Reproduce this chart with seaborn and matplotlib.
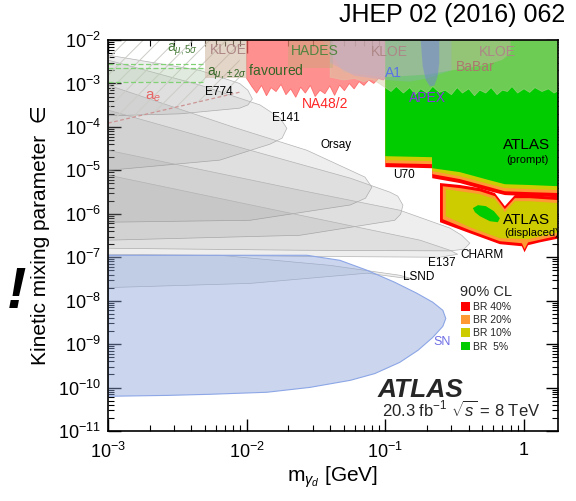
import numpy as np
import pandas as pd
import matplotlib
matplotlib.use("Agg")
import matplotlib.pyplot as plt
import seaborn as sns
from matplotlib.patches import Patch
from matplotlib.ticker import FixedLocator, FixedFormatter, LogLocator, NullFormatter

# ---------------- data (GeV, epsilon) ----------------
E774_x = [1e-3, 4.6e-3, 8.9e-3, 1.02e-2, 1.1e-2, 1.02e-2, 8.9e-3, 3.3e-3, 1e-3]
E774_y = [4.5e-3, 2.0e-3, 1.0e-3, 7.0e-4, 4.4e-4, 3.2e-4, 2.7e-4, 2.0e-4, 1.8e-4]
E141_x = [1e-3, 4.6e-3, 1.25e-2, 1.74e-2, 1.95e-2, 1.8e-2, 1.47e-2, 6.4e-3, 1e-3]
E141_y = [3.46e-3, 9.2e-4, 3.2e-4, 1.6e-4, 9.3e-5, 5.5e-5, 4.0e-5, 1.72e-5, 1e-5]
Orsay_x = [1e-3, 8e-3, 2.72e-2, 5.6e-2, 7.13e-2, 8.0e-2, 7.2e-2, 5.6e-2, 1.06e-2, 1e-3]
Orsay_y = [9.2e-4, 9.9e-5, 2.9e-5, 1.0e-5, 7.0e-6, 4.1e-6, 2.29e-6, 1.6e-6, 7.1e-7, 6.4e-7]
U70_x = [1e-3, 1.06e-2, 5.6e-2, 0.108, 0.123, 0.134, 0.129, 0.117, 2.42e-2, 1e-3]
U70_y = [2.44e-4, 2.9e-5, 6.6e-6, 3.15e-6, 2.55e-6, 1.58e-6, 9.8e-7, 7.1e-7, 3.2e-7, 2.47e-7]
CHARM_x = [1e-3, 2.42e-2, 0.127, 0.292, 0.356, 0.407, 0.369, 0.292, 2.42e-2, 1e-3]
CHARM_y = [2.9e-5, 3.5e-6, 1.21e-6, 4.7e-7, 3.2e-7, 2.1e-7, 1.53e-7, 1.4e-7, 1.45e-7, 1.61e-7]
E137_x = [1e-3, 2.42e-2, 0.178, 0.292, 0.333, 0.248, 2.42e-2, 1e-3]
E137_y = [7.8e-6, 9.3e-7, 2.47e-7, 1.45e-7, 1.17e-7, 1.0e-7, 1.05e-7, 1.17e-7]
LSND_x = [1e-3, 6.4e-3, 4.0e-2, 0.127, 0.16, 7.4e-2, 1.06e-2, 1e-3]
LSND_y = [1.11e-7, 1.11e-7, 6.5e-8, 3.85e-8, 3.1e-8, 4.3e-8, 2.5e-8, 2.0e-8]
SN_x = [1e-3, 2.72e-2, 4.7e-2, 7.4e-2, 0.117, 0.169, 0.22, 0.26, 0.273, 0.26, 0.22,
        0.172, 0.127, 8.4e-2, 5.6e-2, 2.86e-2, 1.4e-2, 5.4e-3, 2.66e-3, 1e-3]
SN_y = [1.11e-7, 1.11e-7, 8.5e-8, 5.0e-8, 2.65e-8, 1.48e-8, 9.2e-9, 6.0e-9, 3.9e-9, 2.57e-9,
        1.43e-9, 7.2e-10, 3.8e-10, 2.1e-10, 1.47e-10, 1.01e-10, 7.8e-11, 7.0e-11, 6.6e-11, 6.3e-11]

ae_x = [1e-3, 8.9e-3, 8.9e-3, 1e-3]
ae_y = [1.22e-4, 6.3e-4, 1e-2, 1e-2]
amu5_x = [1e-3, 5e-3]
amu5_y = [2.8e-3, 2.8e-3]
amu_fav_x = [1e-3, 5e-3]
amu_fav_hi = [2.25e-3, 2.25e-3]
amu_fav_lo = [1.08e-3, 1.08e-3]

NA48_x = [0.010, 0.0109, 0.0118, 0.0128, 0.0139, 0.015, 0.0163, 0.0177, 0.0192, 0.0208,
          0.0226, 0.0245, 0.0265, 0.0288, 0.0312, 0.0338, 0.0367, 0.0398, 0.0431, 0.0468,
          0.0507, 0.055, 0.0596, 0.0647, 0.0701, 0.076, 0.0825, 0.0894, 0.097, 0.1]
NA48_y = [1.3e-3, 8.5e-4, 6.0e-4, 9.0e-4, 5.2e-4, 8.0e-4, 6.5e-4, 9.5e-4, 5.5e-4, 7.5e-4,
          4.8e-4, 8.2e-4, 6.0e-4, 9.0e-4, 5.0e-4, 7.0e-4, 5.8e-4, 8.8e-4, 5.3e-4, 9.2e-4,
          6.8e-4, 1.0e-3, 7.5e-4, 1.1e-3, 9.0e-4, 1.2e-3, 1.0e-3, 1.3e-3, 1.2e-3, 1.4e-3]

BaBar_x = [0.04, 0.05, 0.06, 0.07, 0.08, 0.09, 0.1, 0.11, 0.12, 0.135, 0.15, 0.165, 0.18,
           0.2, 0.22, 0.245, 0.27, 0.3, 0.33, 0.36, 0.4, 0.44, 0.48, 0.53, 0.58, 0.64, 0.7,
           0.76, 0.82, 0.9, 1.0, 1.1, 1.2, 1.35, 1.5, 1.65, 1.8]
BaBar_y = [1.4e-3, 1.2e-3, 1.3e-3, 1.1e-3, 1.25e-3, 1.0e-3, 8.0e-4, 6.5e-4, 8.5e-4, 6.0e-4,
           8.0e-4, 5.5e-4, 7.5e-4, 6.0e-4, 8.5e-4, 6.2e-4, 7.0e-4, 5.5e-4, 8.0e-4, 6.0e-4,
           7.5e-4, 5.2e-4, 7.0e-4, 6.0e-4, 8.0e-4, 5.5e-4, 7.0e-4, 6.5e-4, 8.5e-4, 6.0e-4,
           7.5e-4, 6.2e-4, 8.0e-4, 6.5e-4, 7.5e-4, 6.0e-4, 7.0e-4]
KLOE1_x = [5.0e-3, 1.0e-2, 1.0e-2, 5.0e-3]
KLOE1_y = [1.33e-3, 1.33e-3, 1e-2, 1e-2]
KLOE2_x = [0.035, 0.05, 0.1, 0.2, 0.3, 0.4, 0.5, 0.6, 0.7, 0.8, 0.8, 0.035]
KLOE2_y = [1e-2, 1.8e-3, 1.4e-3, 1.6e-3, 2.0e-3, 2.3e-3, 2.6e-3, 3.0e-3, 3.5e-3, 5e-3, 1e-2, 1e-2]
HADES_x = [0.02, 0.042, 0.042, 0.02]
HADES_y = [2.3e-3, 2.3e-3, 1e-2, 1e-2]
A1_x = [0.04, 0.06, 0.1, 0.15, 0.2, 0.3, 0.3, 0.04]
A1_y = [3e-3, 1.5e-3, 1.2e-3, 1.1e-3, 1.3e-3, 2e-3, 1e-2, 1e-2]
APEX_x = [0.18, 0.186, 0.196, 0.21, 0.226, 0.238, 0.245, 0.245]
APEX_y = [1e-2, 2.5e-3, 1.2e-3, 8.5e-4, 9e-4, 1.4e-3, 3e-3, 1e-2]

# ATLAS prompt: lower boundaries per BR
prompt_x = [0.1, 0.217, 0.218, 0.345, 0.568, 0.728, 1.10, 1.82]
prompt_green = [2.12e-5, 2.01e-5, 1.12e-5, 9.1e-6, 5.9e-6, 4.8e-6, 4.6e-6, 4.3e-6]
prompt_yellow = [1.72e-5, 1.63e-5, 9.6e-6, 7.3e-6, 4.8e-6, 3.9e-6, 3.7e-6, 3.5e-6]
prompt_orange = [1.47e-5, 1.39e-5, 8.2e-6, 6.3e-6, 4.1e-6, 3.3e-6, 3.15e-6, 3.0e-6]
prompt_red = [1.19e-5, 1.12e-5, 6.6e-6, 5.1e-6, 3.3e-6, 2.7e-6, 2.55e-6, 2.4e-6]
# ATLAS displaced contours per BR
disp_red_x = [0.248, 0.345, 0.481, 0.617, 0.728, 0.86, 1.10, 1.82, 1.82, 1.30, 1.07, 1.01,
              0.966, 0.67, 0.407, 0.248]
disp_red_y = [5.1e-6, 4.6e-6, 3.9e-6, 3.0e-6, 1.5e-6, 2.7e-6, 2.7e-6, 2.4e-6, 2.74e-7, 2.2e-7,
              1.89e-7, 1.30e-7, 1.79e-7, 2.0e-7, 3.57e-7, 6.4e-7]
disp_orange_x = [0.26, 0.345, 0.481, 0.617, 0.728, 0.86, 1.10, 1.82, 1.82, 1.07, 1.01, 0.966,
                 0.67, 0.407, 0.26]
disp_orange_y = [4.3e-6, 3.9e-6, 3.3e-6, 2.55e-6, 1.28e-6, 2.29e-6, 2.29e-6, 2.06e-6, 3.2e-7,
                 2.2e-7, 1.53e-7, 2.1e-7, 2.34e-7, 4.2e-7, 7.5e-7]
disp_yellow_x = [0.273, 0.345, 0.481, 0.617, 0.728, 0.86, 1.10, 1.82, 1.82, 1.07, 0.67, 0.407, 0.273]
disp_yellow_y = [3.7e-6, 3.3e-6, 2.83e-6, 2.17e-6, 1.09e-6, 1.95e-6, 1.95e-6, 1.75e-6, 3.8e-7,
                 2.6e-7, 2.74e-7, 4.9e-7, 8.8e-7]
disp_green_x = [0.428, 0.466, 0.531, 0.607, 0.67, 0.648, 0.568, 0.481, 0.443]
disp_green_y = [1.35e-6, 1.58e-6, 1.5e-6, 1.15e-6, 7.9e-7, 6.4e-7, 6.75e-7, 8.8e-7, 1.09e-6]
rho_x = [0.77, 0.77]
rho_y = [5.1e-6, 1e-2]

BR_labels = ["BR 40%", "BR 20%", "BR 10%", "BR  5%"]
BR_colors = ["#ff0000", "#ff9933", "#cccc00", "#00cc00"]

x_ticks = [1e-3, 1e-2, 1e-1, 1]
x_ticklabels = ["$10^{-3}$", "$10^{-2}$", "$10^{-1}$", "1"]
y_ticks = [10.0 ** k for k in range(-11, -1)]
y_ticklabels = ["$10^{%d}$" % k for k in range(-11, -1)]

# ---------------- style ----------------
sns.set_theme(style="ticks")
plt.rcParams["font.family"] = ["Liberation Sans", "DejaVu Sans"]
plt.rcParams["mathtext.fontset"] = "custom"
plt.rcParams["mathtext.rm"] = "Liberation Sans"
plt.rcParams["mathtext.it"] = "Liberation Sans:italic"
plt.rcParams["mathtext.bf"] = "Liberation Sans:bold"
plt.rcParams["hatch.linewidth"] = 0.7

fig = plt.figure(figsize=(5.76, 5.01), dpi=100)
ax = fig.add_axes([0.1875, 0.1397, 0.78125, 0.7804])
ax.set_xscale("log")
ax.set_yscale("log")

gray = (0.5, 0.5, 0.5)
for xs, ys in [(E774_x, E774_y), (E141_x, E141_y), (Orsay_x, Orsay_y), (U70_x, U70_y),
               (CHARM_x, CHARM_y), (E137_x, E137_y), (LSND_x, LSND_y)]:
    ax.fill(xs, ys, facecolor=gray, alpha=0.13, edgecolor="none", zorder=1)
    ax.fill(xs, ys, facecolor="none", edgecolor=(0.7, 0.7, 0.7), linewidth=0.5, zorder=1)

ax.fill(SN_x, SN_y, facecolor=(0.55, 0.65, 0.86), alpha=0.45, edgecolor="none", zorder=2)
ax.fill(SN_x, SN_y, facecolor="none", edgecolor=(0.55, 0.65, 0.9), linewidth=0.8, zorder=2)

# a_e / a_mu
ax.fill(ae_x, ae_y, facecolor="none", edgecolor=(0.8, 0.8, 0.78), hatch="//", linewidth=0, zorder=3)
sns.lineplot(x=ae_x[:2], y=ae_y[:2], ax=ax, color=(0.8, 0.58, 0.58), linestyle=(0, (3, 2)),
             linewidth=0.9, zorder=3)
ax.fill_between(amu_fav_x, amu_fav_lo, amu_fav_hi, color=(0.6, 0.85, 0.55), alpha=0.15, linewidth=0, zorder=3)
for yy in [amu5_y, amu_fav_hi, amu_fav_lo]:
    sns.lineplot(x=amu5_x, y=yy, ax=ax, color=(0.5, 0.82, 0.45), linestyle=(0, (4, 2)),
                 linewidth=0.9, zorder=3)

# NA48/2
na_x = NA48_x + [0.1, 0.01]
na_y = NA48_y + [1e-2, 1e-2]
ax.fill(na_x, na_y, facecolor=(1.0, 0.38, 0.38), alpha=0.7, edgecolor=(1.0, 0.3, 0.3), linewidth=0.6, zorder=3)

# ATLAS prompt
for yb, c in zip([prompt_red, prompt_orange, prompt_yellow, prompt_green], BR_colors):
    ax.fill(prompt_x + [prompt_x[-1], prompt_x[0]], yb + [1e-2, 1e-2], facecolor=c,
            edgecolor="none", zorder=4)
# ATLAS displaced
for xs, ys, c in [(disp_red_x, disp_red_y, BR_colors[0]), (disp_orange_x, disp_orange_y, BR_colors[1]),
                  (disp_yellow_x, disp_yellow_y, BR_colors[2]), (disp_green_x, disp_green_y, BR_colors[3])]:
    ax.fill(xs, ys, facecolor=c, edgecolor="none", zorder=4)
sns.lineplot(x=rho_x, y=rho_y, ax=ax, color=(0.7, 0.75, 0.1), linewidth=1.3, zorder=4)

# top overlays
ax.fill(BaBar_x + [1.8, 0.04], BaBar_y + [1e-2, 1e-2], facecolor=(0.85, 0.8, 0.65), alpha=0.5,
        edgecolor=(0.85, 0.82, 0.7), linewidth=0.5, zorder=5)
ax.fill(KLOE2_x, KLOE2_y, facecolor=(0.82, 0.72, 0.68), alpha=0.4, edgecolor="none", zorder=5)
ax.fill(KLOE1_x, KLOE1_y, facecolor=(0.8, 0.7, 0.6), alpha=0.55, edgecolor="none", zorder=5)
ax.fill(HADES_x, HADES_y, facecolor=(0.7, 0.68, 0.45), alpha=0.35, edgecolor="none", zorder=5)
ax.fill(A1_x, A1_y, facecolor=(0.6, 0.65, 0.95), alpha=0.25, edgecolor="none", zorder=5)
ax.fill(APEX_x, APEX_y, facecolor=(0.45, 0.5, 0.85), alpha=0.5, edgecolor="none", zorder=5)

# axes
ax.set_xlim(1e-3, 1.76)
ax.set_ylim(1e-11, 1e-2)
ax.xaxis.set_major_locator(FixedLocator(x_ticks))
ax.xaxis.set_major_formatter(FixedFormatter(x_ticklabels))
ax.yaxis.set_major_locator(FixedLocator(y_ticks))
ax.yaxis.set_major_formatter(FixedFormatter(y_ticklabels))
ax.xaxis.set_minor_locator(LogLocator(base=10, subs=np.arange(2, 10), numticks=30))
ax.yaxis.set_minor_locator(LogLocator(base=10, subs=np.arange(2, 10), numticks=30))
ax.xaxis.set_minor_formatter(NullFormatter())
ax.yaxis.set_minor_formatter(NullFormatter())
ax.tick_params(which="major", direction="in", length=9, width=1.0, top=True, right=True,
               labelsize=13, color="black", labelcolor="black")
ax.tick_params(axis="x", which="major", pad=8)
ax.tick_params(axis="y", which="major", pad=5)
ax.tick_params(which="minor", direction="in", length=4.5, width=0.8, top=True, right=True, color="black")
for s in ax.spines.values():
    s.set_linewidth(1.2)
    s.set_color("black")
    s.set_zorder(10)
ax.set_xlabel(r"m$_{\gamma_d}$ [GeV]", fontsize=15, color="black", labelpad=2)
ax.set_ylabel("Kinetic mixing parameter  \u2208", fontsize=15, color="black", labelpad=6)

# labels (axes fraction)
def lab(px, py, s, color="black", size=8.5, ha="left", **kw):
    ax.text((px - 108) / 450.0, (431 - py) / 391.0, s, transform=ax.transAxes, color=color,
            fontsize=size, ha=ha, va="center", zorder=12, **kw)

lab(167, 50, r"a$_{\mu,5\sigma}$", color=(0.3, 0.5, 0.25), size=10)
lab(228, 50, "KLOE", color=(0.68, 0.53, 0.53), size=10, ha="center")
lab(315, 51, "HADES", color=(0.32, 0.52, 0.25), size=10, ha="center")
lab(389, 52, "KLOE", color=(0.68, 0.53, 0.53), size=10, ha="center")
lab(497, 52, "KLOE", color=(0.68, 0.53, 0.53), size=10, ha="center")
lab(393, 73, "A1", color=(0.35, 0.45, 0.9), size=10, ha="center")
lab(427, 98, "APEX", color=(0.55, 0.2, 0.9), size=10, ha="center")
lab(475, 67, "BaBar", color=(0.67, 0.47, 0.43), size=10, ha="center")
lab(325, 104, "NA48/2", color=(1.0, 0.15, 0.15), size=10, ha="center")
lab(207, 72, r"a$_{\mu,\pm2\sigma}$ favoured", color=(0.2, 0.4, 0.15), size=10)
lab(205, 92, "E774")
lab(145, 97, r"a$_e$", color=(0.9, 0.4, 0.4), size=11)
lab(272, 118, "E141")
lab(336, 145, "Orsay", ha="center")
lab(393, 175, "U70")
lab(460, 255, "CHARM")
lab(428, 263, "E137")
lab(403, 277, "LSND")
lab(433, 342, "SN", color=(0.43, 0.43, 0.9), size=9)
lab(527, 145, "ATLAS", size=11, ha="center")
lab(527, 160, "(prompt)", size=8, ha="center")
lab(527, 220, "ATLAS", size=11, ha="center")
lab(532, 233, "(displaced)", size=8, ha="center")

ax.text((378 - 108) / 450.0, (431 - 397) / 391.0, "ATLAS", transform=ax.transAxes,
        fontsize=19, fontweight="bold", fontstyle="italic", ha="left", va="baseline", zorder=12)
ax.text((382 - 108) / 450.0, (431 - 417) / 391.0, r"20.3 fb$^{-1}$ $\sqrt{s}$ = 8 TeV",
        transform=ax.transAxes, fontsize=12, ha="left", va="baseline", zorder=12)

handles = [Patch(facecolor=c, edgecolor="none") for c in BR_colors]
leg = ax.legend(handles, BR_labels, title="90% CL", loc="upper left",
                bbox_to_anchor=((460 - 108) / 450.0, (431 - 285) / 391.0), frameon=False,
                fontsize=7.5, title_fontsize=10.5, handlelength=0.9, handleheight=0.9,
                handletextpad=0.3, labelspacing=0.3, borderaxespad=0, borderpad=0)
leg.set_zorder(12)

fig.text(0.981, 0.970, "JHEP 02 (2016) 062", ha="right", va="center", fontsize=18, color="black")
fig.text(0.012, 0.415, "!", fontsize=42, fontweight="bold", fontstyle="italic", ha="left",
         va="center", color="black")

fig.savefig("out.png", dpi=100)
